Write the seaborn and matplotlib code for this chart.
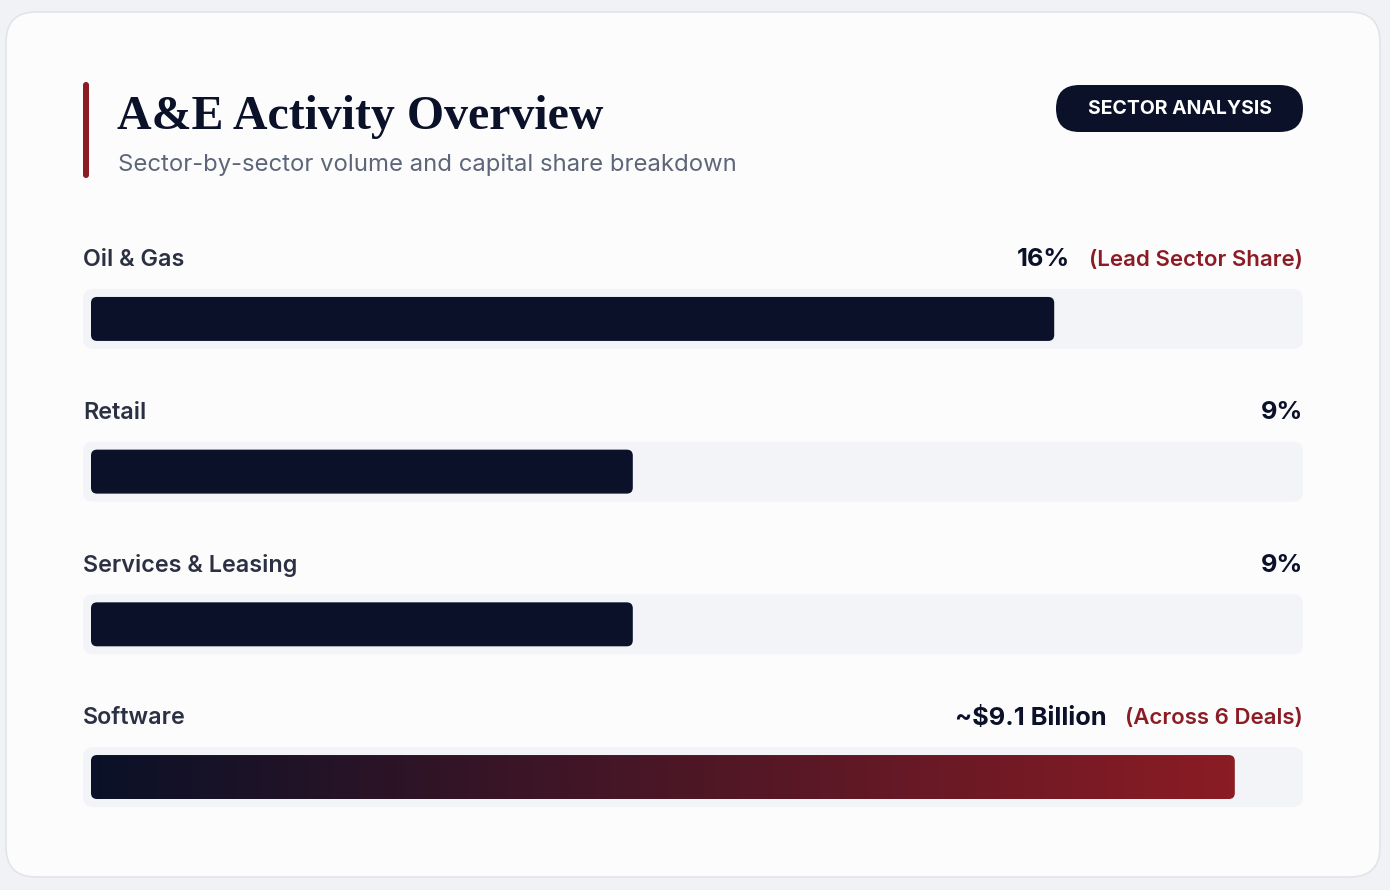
import numpy as np
import pandas as pd
import matplotlib
matplotlib.use("Agg")
import matplotlib.pyplot as plt
import seaborn as sns
from matplotlib.patches import FancyBboxPatch
from matplotlib.colors import LinearSegmentedColormap

# data
sectors = ["Oil & Gas", "Retail", "Services & Leasing", "Software"]
bar_fill = [80, 45, 45, 95]          # bar length as % of the track
value_labels = ["16%", "9%", "9%", "~$9.1 Billion"]
notes = ["(Lead Sector Share)", "", "", "(Across 6 Deals)"]
gradient_bar = [False, False, False, True]

NAVY = "#0a1128"
RED = "#8b1c24"
TRACK = "#f3f4f8"
LABEL = "#2b3142"

sns.set_theme(style="white")
plt.rcParams["font.family"] = ["Inter", "DejaVu Sans"]

W, H = 1390, 890
fig = plt.figure(figsize=(W / 100, H / 100), dpi=100, facecolor="#f1f2f5")

# background layer in pixel coords (y down)
bg = fig.add_axes([0, 0, 1, 1])
bg.set_xlim(0, W)
bg.set_ylim(H, 0)
bg.axis("off")
bg.add_patch(FancyBboxPatch((6, 12), 1374, 865, boxstyle="round,pad=0,rounding_size=30",
                            fc="#fcfcfd", ec="#e2e4e9", lw=1.2))
bg.add_patch(FancyBboxPatch((83, 82), 6, 96, boxstyle="round,pad=0,rounding_size=3",
                            fc=RED, ec="none"))
bg.text(117, 129, "A&E Activity Overview", family=["Liberation Serif", "DejaVu Serif"],
        weight="bold", fontsize=34.5, color=NAVY, va="baseline")
bg.text(118, 171, "Sector-by-sector volume and capital share breakdown",
        fontsize=17.2, color="#5d6678", va="baseline")
bg.add_patch(FancyBboxPatch((1056, 85), 247, 47, boxstyle="round,pad=0,rounding_size=23.5",
                            fc=NAVY, ec="none"))
bg.text(1179.5, 109, "SECTOR ANALYSIS", fontsize=14, weight="bold", color="white",
        ha="center", va="center")

# bar area
left, right, top, bottom = 83, 1303, 240, 830
ax = fig.add_axes([left / W, (H - bottom) / H, (right - left) / W, (bottom - top) / H])
df = pd.DataFrame({"sector": sectors, "fill": bar_fill})
sns.barplot(data=df, x="fill", y="sector", orient="h", width=0.288, color=NAVY, ax=ax)

xmin, xmax = -0.664, 100.664
ymin, ymax = -0.517, 3.347
ax.set_xlim(xmin, xmax)
ax.set_ylim(ymax, ymin)
ax.axis("off")
ax.patch.set_alpha(0)

px = ax.transData.transform((1, 0))[0] - ax.transData.transform((0, 0))[0]
py = abs(ax.transData.transform((0, 1))[1] - ax.transData.transform((0, 0))[1])
aspect = px / py

track_h = 60 / py
label_off = 59 / py
cmap = LinearSegmentedColormap.from_list("navy_red", [NAVY, RED])

for i, bar in enumerate(ax.patches[:len(sectors)]):
    bar.set_visible(False)
    x0, y0 = bar.get_x(), bar.get_y()
    w, h = bar.get_width(), bar.get_height()
    yc = y0 + h / 2
    ax.add_patch(FancyBboxPatch((xmin, yc - track_h / 2), xmax - xmin, track_h,
                                boxstyle=f"round,pad=0,rounding_size={10 / px}",
                                mutation_aspect=aspect, fc=TRACK, ec="none", zorder=1))
    rb = FancyBboxPatch((x0, y0), w, h, boxstyle=f"round,pad=0,rounding_size={6 / px}",
                        mutation_aspect=aspect, fc=NAVY, ec="none", zorder=2)
    ax.add_patch(rb)
    if gradient_bar[i]:
        rb.set_facecolor("none")
        grad = np.linspace(0, 1, 256).reshape(1, -1)
        im = ax.imshow(grad, cmap=cmap, aspect="auto", extent=(x0, x0 + w, y0 + h, y0),
                       zorder=3, interpolation="bilinear")
        im.set_clip_path(rb)

    ax.text(xmin, yc - label_off, sectors[i], fontsize=16.8, weight="semibold", color=LABEL,
            ha="left", va="center")

ax.set_xlim(xmin, xmax)
ax.set_ylim(ymax, ymin)

fig.canvas.draw()
renderer = fig.canvas.get_renderer()
for i in range(len(sectors)):
    ly = i - label_off
    xr = xmax
    if notes[i]:
        t = ax.text(xr, ly, notes[i], fontsize=16, weight="semibold", color=RED,
                    ha="right", va="center")
        ext = t.get_window_extent(renderer)
        xr = xmax - (ext.width + 19) / px
    ax.text(xr, ly, value_labels[i], fontsize=18.3, weight="bold", color=NAVY,
            ha="right", va="center")

fig.savefig("out.png", dpi=100, facecolor=fig.get_facecolor())
